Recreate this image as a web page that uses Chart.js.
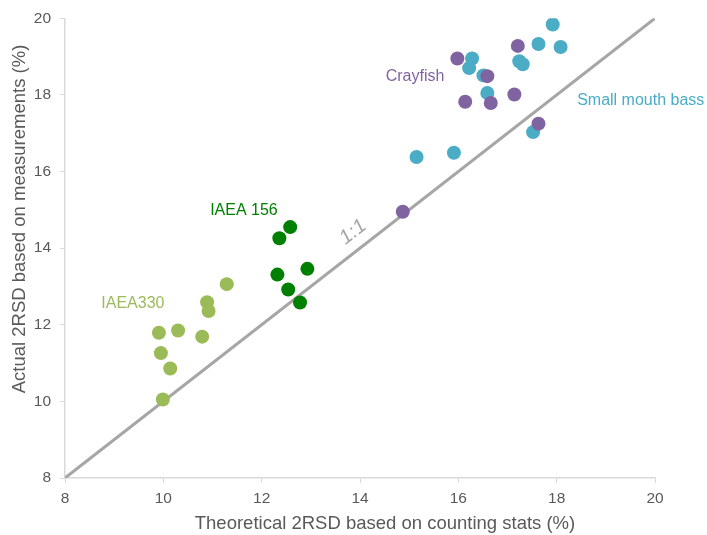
<!DOCTYPE html>
<html>
<head>
<meta charset="utf-8">
<script src="https://cdn.jsdelivr.net/npm/chart.js@4"></script>
<style>
  html, body { margin: 0; padding: 0; background: #ffffff; }
  #wrap { width: 707px; height: 535px; }
</style>
</head>
<body>
<div id="wrap"><canvas id="c" width="707" height="535"></canvas></div>
<script>
// ---- Data ----
const crayfishX = [15.98, 17.21, 16.59, 16.14, 16.66, 17.14, 17.63, 14.87];
const crayfishY = [18.95, 19.28, 18.49, 17.82, 17.79, 18.01, 17.25, 14.95];

const bassX = [17.92, 17.63, 18.08, 16.28, 16.22, 16.51, 17.24, 17.31, 16.59, 17.52, 15.91, 15.15];
const bassY = [19.84, 19.33, 19.25, 18.95, 18.70, 18.51, 18.88, 18.80, 18.05, 17.03, 16.49, 16.38];

const iaea156X = [12.58, 12.36, 12.32, 12.93, 12.54, 12.78];
const iaea156Y = [14.55, 14.26, 13.31, 13.46, 12.92, 12.58];

const iaea330X = [11.29, 10.89, 10.92, 9.91, 10.30, 10.79, 9.95, 10.14, 9.99];
const iaea330Y = [13.06, 12.59, 12.36, 11.79, 11.85, 11.69, 11.26, 10.86, 10.05];

const oneToOne = [8, 20];
const axisTicks = [8, 10, 12, 14, 16, 18, 20];

const xTitle = 'Theoretical 2RSD based on counting stats (%)';
const yTitle = 'Actual 2RSD based on measurements (%)';

// group labels placed in data coordinates
const groupLabels = [
  { text: 'Crayfish', x: 15.12, y: 18.49, color: '#8064a2' },
  { text: 'Small mouth bass', x: 19.71, y: 17.86, color: '#4bacc6' },
  { text: 'IAEA 156', x: 11.64, y: 14.99, color: '#008000' },
  { text: 'IAEA330', x: 9.38, y: 12.54, color: '#9bbb59' }
];
const lineLabel = { text: '1:1', x: 13.86, y: 14.42 };

// ---- build ----
const pts = (xs, ys) => xs.map((v, i) => ({ x: v, y: ys[i] }));

const FONT = '"Liberation Sans", Arial, sans-serif';

const labelPlugin = {
  id: 'labels',
  afterDatasetsDraw(chart) {
    const { ctx, scales } = chart;
    const xs = scales.x, ys = scales.y;
    ctx.save();
    ctx.textAlign = 'center';
    ctx.textBaseline = 'middle';
    ctx.font = '16px ' + FONT;
    groupLabels.forEach(l => {
      ctx.fillStyle = l.color;
      ctx.fillText(l.text, xs.getPixelForValue(l.x), ys.getPixelForValue(l.y));
    });
    // 1:1 label rotated along the line
    const dx = xs.getPixelForValue(oneToOne[1]) - xs.getPixelForValue(oneToOne[0]);
    const dy = ys.getPixelForValue(oneToOne[1]) - ys.getPixelForValue(oneToOne[0]);
    const ang = Math.atan2(dy, dx);
    ctx.translate(xs.getPixelForValue(lineLabel.x), ys.getPixelForValue(lineLabel.y));
    ctx.rotate(ang);
    ctx.font = 'italic 20px ' + FONT;
    ctx.fillStyle = '#a6a6a6';
    ctx.fillText(lineLabel.text, 0, 0);
    ctx.restore();

    // axis titles
    ctx.save();
    ctx.fillStyle = '#595959';
    ctx.font = '18.5px ' + FONT;
    ctx.textAlign = 'center';
    ctx.textBaseline = 'middle';
    ctx.fillText(xTitle, 385, 524);
    ctx.translate(20, 219);
    ctx.rotate(-Math.PI / 2);
    ctx.fillText(yTitle, 0, 0);
    ctx.restore();
  }
};

new Chart(document.getElementById('c'), {
  type: 'scatter',
  data: {
    datasets: [
      { label: 'Crayfish', data: pts(crayfishX, crayfishY), backgroundColor: '#8064a2', borderWidth: 0, pointRadius: 7, order: 1 },
      { label: 'Small mouth bass', data: pts(bassX, bassY), backgroundColor: '#4bacc6', borderWidth: 0, pointRadius: 7, order: 2 },
      { label: 'IAEA 156', data: pts(iaea156X, iaea156Y), backgroundColor: '#008000', borderWidth: 0, pointRadius: 7, order: 3 },
      { label: 'IAEA330', data: pts(iaea330X, iaea330Y), backgroundColor: '#9bbb59', borderWidth: 0, pointRadius: 7, order: 4 },
      { type: 'line', label: '1:1', data: pts(oneToOne, oneToOne), borderColor: '#a6a6a6', borderWidth: 3, pointRadius: 0, fill: false, order: 5 }
    ]
  },
  options: {
    responsive: false,
    animation: false,
    devicePixelRatio: 1,
    layout: { padding: { left: 0, right: 52, top: 18, bottom: 0 } },
    plugins: { legend: { display: false }, tooltip: { enabled: false } },
    scales: {
      x: {
        type: 'linear', min: 8, max: 20,
        afterBuildTicks: s => { s.ticks = axisTicks.map(v => ({ value: v })); },
        afterFit: s => { s.height = 57; },
        grid: { display: true, drawOnChartArea: false, drawTicks: true, tickLength: 5, color: '#d9d9d9' },
        border: { display: true, color: '#d9d9d9', width: 1.5 },
        ticks: { color: '#595959', font: { size: 15.5, family: FONT }, padding: 6, maxRotation: 0 }
      },
      y: {
        type: 'linear', min: 8, max: 20,
        afterBuildTicks: s => { s.ticks = axisTicks.map(v => ({ value: v })); },
        afterFit: s => { s.width = 65; },
        grid: { display: true, drawOnChartArea: false, drawTicks: true, tickLength: 5, color: '#d9d9d9' },
        border: { display: true, color: '#d9d9d9', width: 1.5 },
        ticks: { color: '#595959', font: { size: 15.5, family: FONT }, padding: 9 }
      }
    }
  },
  plugins: [labelPlugin]
});
</script>
</body>
</html>
